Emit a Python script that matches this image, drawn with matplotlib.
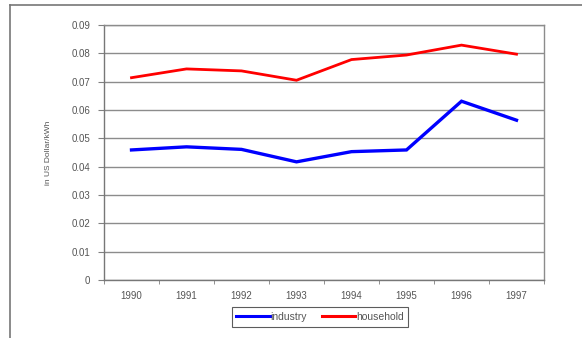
import matplotlib.pyplot as plt
from matplotlib.lines import Line2D
import numpy as np

plt.rcParams['font.family'] = ['Liberation Sans', 'DejaVu Sans']

# electricity prices by year
years = ['1990', '1991', '1992', '1993', '1994', '1995', '1996', '1997']
industry = [0.0459, 0.0470, 0.0461, 0.0417, 0.0453, 0.0459, 0.0631, 0.0564]
household = [0.0714, 0.0745, 0.0738, 0.0705, 0.0778, 0.0794, 0.0829, 0.0797]
y_ticks = [0, 0.01, 0.02, 0.03, 0.04, 0.05, 0.06, 0.07, 0.08, 0.09]

fs = 7
fig = plt.figure(figsize=(5.82, 3.38), dpi=100)
ax = fig.add_axes([104 / 582, 1 - 280 / 338, 440 / 582, 255 / 338])

x = np.arange(len(years))
ax.plot(x, industry, color='#0000ff', lw=2.4, solid_joinstyle='miter')
ax.plot(x, household, color='#ff0000', lw=2.0, solid_joinstyle='miter')

ax.set_xlim(-0.5, len(years) - 0.5)
ax.set_ylim(0, 0.09)
ax.set_yticks(y_ticks)
ax.set_yticklabels(['0'] + ['%.2f' % v for v in y_ticks[1:]], fontsize=fs, color='#555555')
ax.set_xticks(x)
ax.set_xticklabels(years, fontsize=fs, color='#555555')
ax.set_xticks(np.arange(-0.5, len(years)), minor=True)
ax.tick_params(axis='x', which='major', length=0, pad=8)
ax.tick_params(axis='x', which='minor', length=3, color='#808080')
ax.tick_params(axis='y', length=4, color='#808080', pad=6)
ax.grid(axis='y', color='#8c8c8c', lw=1.0)
ax.set_axisbelow(True)
for s in ax.spines.values():
    s.set_color('#8c8c8c')
    s.set_linewidth(1.0)
ax.spines['left'].set_color('#777777')
ax.spines['bottom'].set_color('#777777')

ax.set_ylabel('in US Dollar/kWh', fontsize=6, color='#555555', labelpad=14)

handles = [Line2D([], [], color='#0000ff', lw=2.2), Line2D([], [], color='#ff0000', lw=2.2)]
leg = fig.legend(handles, ['industry', 'household'], loc='center',
                 bbox_to_anchor=(320 / 582, 1 - 317 / 338), ncol=2, fontsize=fs + 0.5,
                 frameon=True, fancybox=False, handlelength=3.2, handletextpad=0.1,
                 columnspacing=1.4, borderpad=0.45)
leg.get_frame().set_edgecolor('#333333')
leg.get_frame().set_linewidth(0.8)
for t in leg.get_texts():
    t.set_color('#555555')

# outer chart border (left and top edges)
fig.add_artist(Line2D([10 / 582, 10 / 582], [0, 1 - 5 / 338], color='#777777', lw=1.2))
fig.add_artist(Line2D([10 / 582, 1], [1 - 5 / 338, 1 - 5 / 338], color='#777777', lw=1.2))

fig.savefig('out.png', dpi=100)
